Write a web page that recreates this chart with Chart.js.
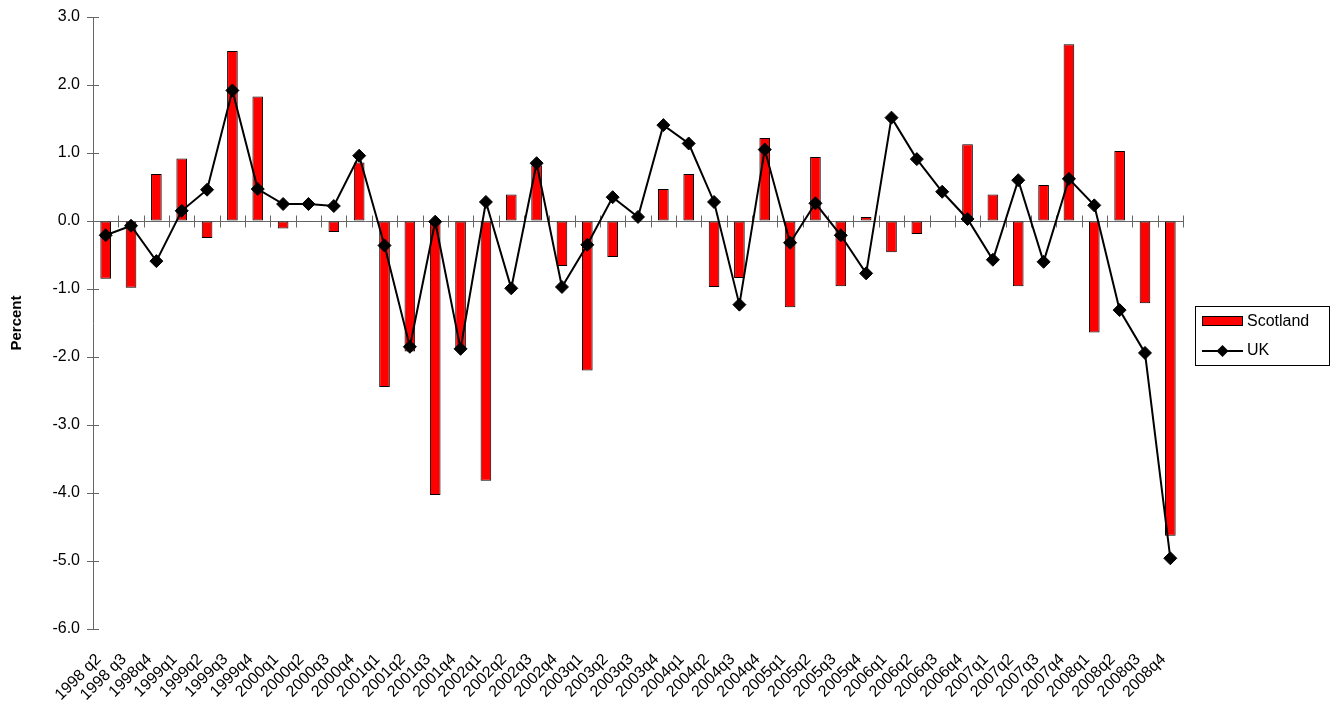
<!DOCTYPE html>
<html>
<head>
<meta charset="utf-8">
<script src="https://cdn.jsdelivr.net/npm/chart.js@4.4.1/dist/chart.umd.min.js"></script>
<style>
  html, body { margin: 0; padding: 0; background: #fff; }
  #wrap { width: 1337px; height: 710px; }
</style>
</head>
<body>
<div id="wrap"><canvas id="c" width="1337" height="710"></canvas></div>
<script>
const categories = ["1998 q2","1998 q3","1998q4","1999q1","1999q2","1999q3","1999q4","2000q1","2000q2","2000q3","2000q4","2001q1","2001q2","2001q3","2001q4","2002q1","2002q2","2002q3","2002q4","2003q1","2003q2","2003q3","2003q4","2004q1","2004q2","2004q3","2004q4","2005q1","2005q2","2005q3","2005q4","2006q1","2006q2","2006q3","2006q4","2007q1","2007q2","2007q3","2007q4","2008q1","2008q2","2008q3","2008q4"];
const scotland = [-0.85,-0.98,0.69,0.92,-0.25,2.50,1.83,-0.11,-0.01,-0.16,0.86,-2.44,-1.92,-4.03,-1.88,-3.82,0.39,0.82,-0.66,-2.20,-0.53,0.01,0.47,0.69,-0.97,-0.84,1.22,-1.27,0.94,-0.96,0.06,-0.46,-0.19,-0.01,1.13,0.39,-0.96,0.53,2.60,-1.64,1.03,-1.21,-4.63];
const uk = [-0.21,-0.07,-0.59,0.15,0.46,1.92,0.47,0.25,0.25,0.22,0.96,-0.36,-1.85,-0.01,-1.88,0.28,-0.99,0.85,-0.97,-0.35,0.35,0.06,1.41,1.14,0.28,-1.23,1.05,-0.32,0.26,-0.21,-0.77,1.52,0.91,0.43,0.03,-0.57,0.60,-0.60,0.62,0.23,-1.31,-1.94,-4.96];
const yMin = -6, yMax = 3, yStep = 1;
const seriesNames = ["Scotland", "UK"];
const yTitle = "Percent";

Chart.defaults.font.family = "'Liberation Sans', Arial, sans-serif";
Chart.defaults.color = "#000";

const AXIS = "#666";

const axesPlugin = {
  id: "axesPlugin",
  beforeDatasetsDraw(chart) {
    const ctx = chart.ctx, x = chart.scales.x, y = chart.scales.y, a = chart.chartArea;
    ctx.save();
    ctx.strokeStyle = AXIS;
    ctx.lineWidth = 1;
    ctx.beginPath();
    for (let v = yMin; v <= yMax; v += yStep) {
      const py = Math.round(y.getPixelForValue(v)) + 0.5;
      ctx.moveTo(a.left, py); ctx.lineTo(a.left + 6, py);
    }
    ctx.stroke();
    const zy = Math.round(y.getPixelForValue(0)) + 0.5;
    ctx.beginPath();
    ctx.moveTo(a.left, zy); ctx.lineTo(a.right, zy);
    const n = categories.length;
    for (let i = 0; i <= n; i++) {
      let px;
      if (i === 0) px = a.left;
      else if (i === n) px = a.right;
      else px = (x.getPixelForValue(i - 1) + x.getPixelForValue(i)) / 2;
      px = Math.round(px) + 0.5;
      ctx.moveTo(px, zy - 6); ctx.lineTo(px, zy + 6);
    }
    ctx.stroke();
    ctx.restore();
  },
  afterDraw(chart) {
    const ctx = chart.ctx;
    const ds = chart.data.datasets;
    const barDs = ds.find(d => d.type === "bar");
    const lineDs = ds.find(d => d.type === "line");
    const bx = 1195.5, by = 306.5, bw = 134, bh = 59;
    ctx.save();
    ctx.strokeStyle = "#000";
    ctx.lineWidth = 1;
    ctx.strokeRect(bx, by, bw, bh);
    ctx.fillStyle = barDs.backgroundColor;
    ctx.fillRect(1202, 316, 41, 10);
    ctx.strokeRect(1202.5, 316.5, 40, 9);
    ctx.strokeStyle = lineDs.borderColor;
    ctx.lineWidth = 2;
    ctx.beginPath(); ctx.moveTo(1202, 351); ctx.lineTo(1243, 351); ctx.stroke();
    ctx.fillStyle = lineDs.pointBackgroundColor;
    ctx.beginPath();
    ctx.moveTo(1222.5, 345); ctx.lineTo(1228.5, 351); ctx.lineTo(1222.5, 357); ctx.lineTo(1216.5, 351);
    ctx.closePath(); ctx.fill();
    ctx.fillStyle = "#000";
    ctx.font = "16px 'Liberation Sans', Arial, sans-serif";
    ctx.textBaseline = "middle";
    ctx.textAlign = "left";
    ctx.fillText(barDs.label, 1247, 322);
    ctx.fillText(lineDs.label, 1247, 351);
    ctx.restore();
  }
};

new Chart(document.getElementById("c"), {
  data: {
    labels: categories,
    datasets: [
      {
        type: "line",
        label: seriesNames[1],
        data: uk,
        order: 0,
        borderColor: "#000",
        borderWidth: 2,
        tension: 0,
        pointStyle: "rectRot",
        pointRadius: 6.5,
        pointHoverRadius: 6.5,
        pointBackgroundColor: "#000",
        pointBorderColor: "#000",
        pointBorderWidth: 1
      },
      {
        type: "bar",
        label: seriesNames[0],
        data: scotland,
        order: 1,
        backgroundColor: "#ff0000",
        borderColor: "#000",
        borderWidth: 1,
        borderSkipped: false,
        barPercentage: 0.42,
        categoryPercentage: 1
      }
    ]
  },
  options: {
    responsive: false,
    animation: false,
    devicePixelRatio: 1,
    layout: { padding: { left: 0, right: 154, top: 17, bottom: 0 } },
    plugins: {
      legend: { display: false },
      tooltip: { enabled: false }
    },
    scales: {
      x: {
        type: "category",
        offset: true,
        grid: { display: false, drawTicks: false },
        border: { display: false },
        ticks: {
          autoSkip: false,
          minRotation: 45,
          maxRotation: 45,
          padding: 21,
          labelOffset: -7,
          font: { size: 16 },
          color: "#000"
        },
        afterFit(scale) { scale.height = 81; }
      },
      y: {
        min: yMin,
        max: yMax,
        grid: { display: true, drawOnChartArea: false, drawTicks: true, tickLength: 6, color: AXIS },
        border: { display: true, color: AXIS, width: 1 },
        ticks: {
          stepSize: yStep,
          padding: 7,
          font: { size: 16 },
          color: "#000",
          callback: (v) => Number(v).toFixed(1)
        },
        title: {
          display: true,
          text: yTitle,
          font: { size: 15, weight: "bold" },
          color: "#000",
          padding: { top: 8, bottom: 0 }
        },
        afterFit(scale) { scale.width = 93; }
      }
    }
  },
  plugins: [axesPlugin]
});
</script>
</body>
</html>
